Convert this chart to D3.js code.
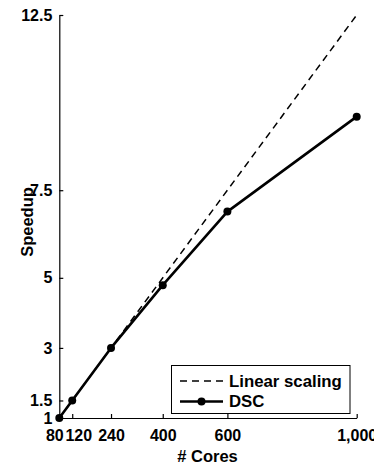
<!DOCTYPE html>
<html><head><meta charset="utf-8">
<script src="https://cdn.jsdelivr.net/npm/d3@7"></script>
<style>
html,body{margin:0;padding:0;background:#fff;}
svg{display:block;font-family:"Liberation Sans",Arial,Helvetica,sans-serif;font-weight:bold;}
</style></head>
<body><svg id="c" width="374" height="466"></svg>
<script>
const cores = [80, 120, 240, 400, 600, 1000];
const dscSpeedup = [1, 1.5, 3, 4.79, 6.89, 9.6];
const linearSpeedup = [1, 12.5];
const linearCores = [80, 1000];
const xTicks = [80, 120, 240, 400, 600, 1000];
const xTickLabels = ["80", "120", "240", "400", "600", "1,000"];
const yTicks = [1, 1.5, 3, 5, 7.5, 12.5];
const yTickLabels = ["1", "1.5", "3", "5", "7.5", "12.5"];
const seriesNames = ["Linear scaling", "DSC"];

const svg = d3.select("#c");
const m = {l: 60, r: 17.3, t: 15, b: 48};
const W = 374, H = 466;
const x = d3.scaleLinear().domain([80, 1000]).range([m.l - 0.7, W - m.r]);
const y = d3.scaleLinear().domain([1, 12.5]).range([H - m.b, m.t]);

// axes
const xAxis = d3.axisBottom(x).tickValues(xTicks).tickFormat((d,i)=>xTickLabels[i]).tickSizeInner(-4).tickSizeOuter(0).tickPadding(12);
const gx = svg.append("g").attr("transform", `translate(0,${y(1)})`).call(xAxis);
const yAxis = d3.axisLeft(y).tickValues(yTicks).tickFormat((d,i)=>yTickLabels[i]).tickSizeInner(-4).tickSizeOuter(0).tickPadding(7);
const gy = svg.append("g").attr("transform", `translate(${x(80)},0)`).call(yAxis);
[gx, gy].forEach(g => {
  g.selectAll("text").attr("font-size", 16).attr("font-weight", "bold").attr("fill", "#000").attr("font-family", null);
  g.selectAll("line,path").attr("stroke", "#000").attr("stroke-width", 1.2);
  g.attr("font-family", null).attr("font-size", null);
});
// nudge the crowded first two x labels apart
gx.selectAll(".tick text").attr("dx", (d,i)=> i===0 ? -5 : (i===1 ? 6 : 0));

// linear scaling dashed line
const line = d3.line().x(d=>x(d[0])).y(d=>y(d[1]));
svg.append("path")
  .datum(linearCores.map((c,i)=>[c, linearSpeedup[i]]))
  .attr("d", line).attr("fill","none").attr("stroke","#000")
  .attr("stroke-width", 1.5).attr("stroke-dasharray", "7,5");

// DSC line
const dsc = cores.map((c,i)=>[c, dscSpeedup[i]]);
svg.append("path").datum(dsc).attr("d", line).attr("fill","none")
  .attr("stroke","#000").attr("stroke-width", 2.6).attr("stroke-linejoin","round");
svg.selectAll("circle.pt").data(dsc).join("circle").attr("class","pt")
  .attr("cx", d=>x(d[0])).attr("cy", d=>y(d[1])).attr("r", 4).attr("fill","#000");

// axis labels
svg.append("text").attr("x", 207.5).attr("y", 461.5).attr("text-anchor","middle")
  .attr("font-size", 16.5).text("# Cores");
svg.append("text").attr("transform","translate(32.5,222) rotate(-90)").attr("text-anchor","middle")
  .attr("font-size", 16.5).text("Speedup");

// legend
const lg = svg.append("g");
lg.append("rect").attr("x", 171.5).attr("y", 365.5).attr("width", 178.5).attr("height", 48)
  .attr("fill","#fff").attr("stroke","#000").attr("stroke-width", 1);
lg.append("line").attr("x1",180).attr("x2",223).attr("y1",381).attr("y2",381)
  .attr("stroke","#000").attr("stroke-width",1.4).attr("stroke-dasharray","7,5");
lg.append("line").attr("x1",180).attr("x2",223).attr("y1",401.5).attr("y2",401.5)
  .attr("stroke","#000").attr("stroke-width",2.6);
lg.append("circle").attr("cx",201.5).attr("cy",401.5).attr("r",4).attr("fill","#000");
lg.selectAll("text.lt").data(seriesNames).join("text").attr("class","lt")
  .attr("x", 229).attr("y", (d,i)=> i===0 ? 387 : 406.5).attr("font-size", 16.8).text(d=>d);
</script></body></html>
